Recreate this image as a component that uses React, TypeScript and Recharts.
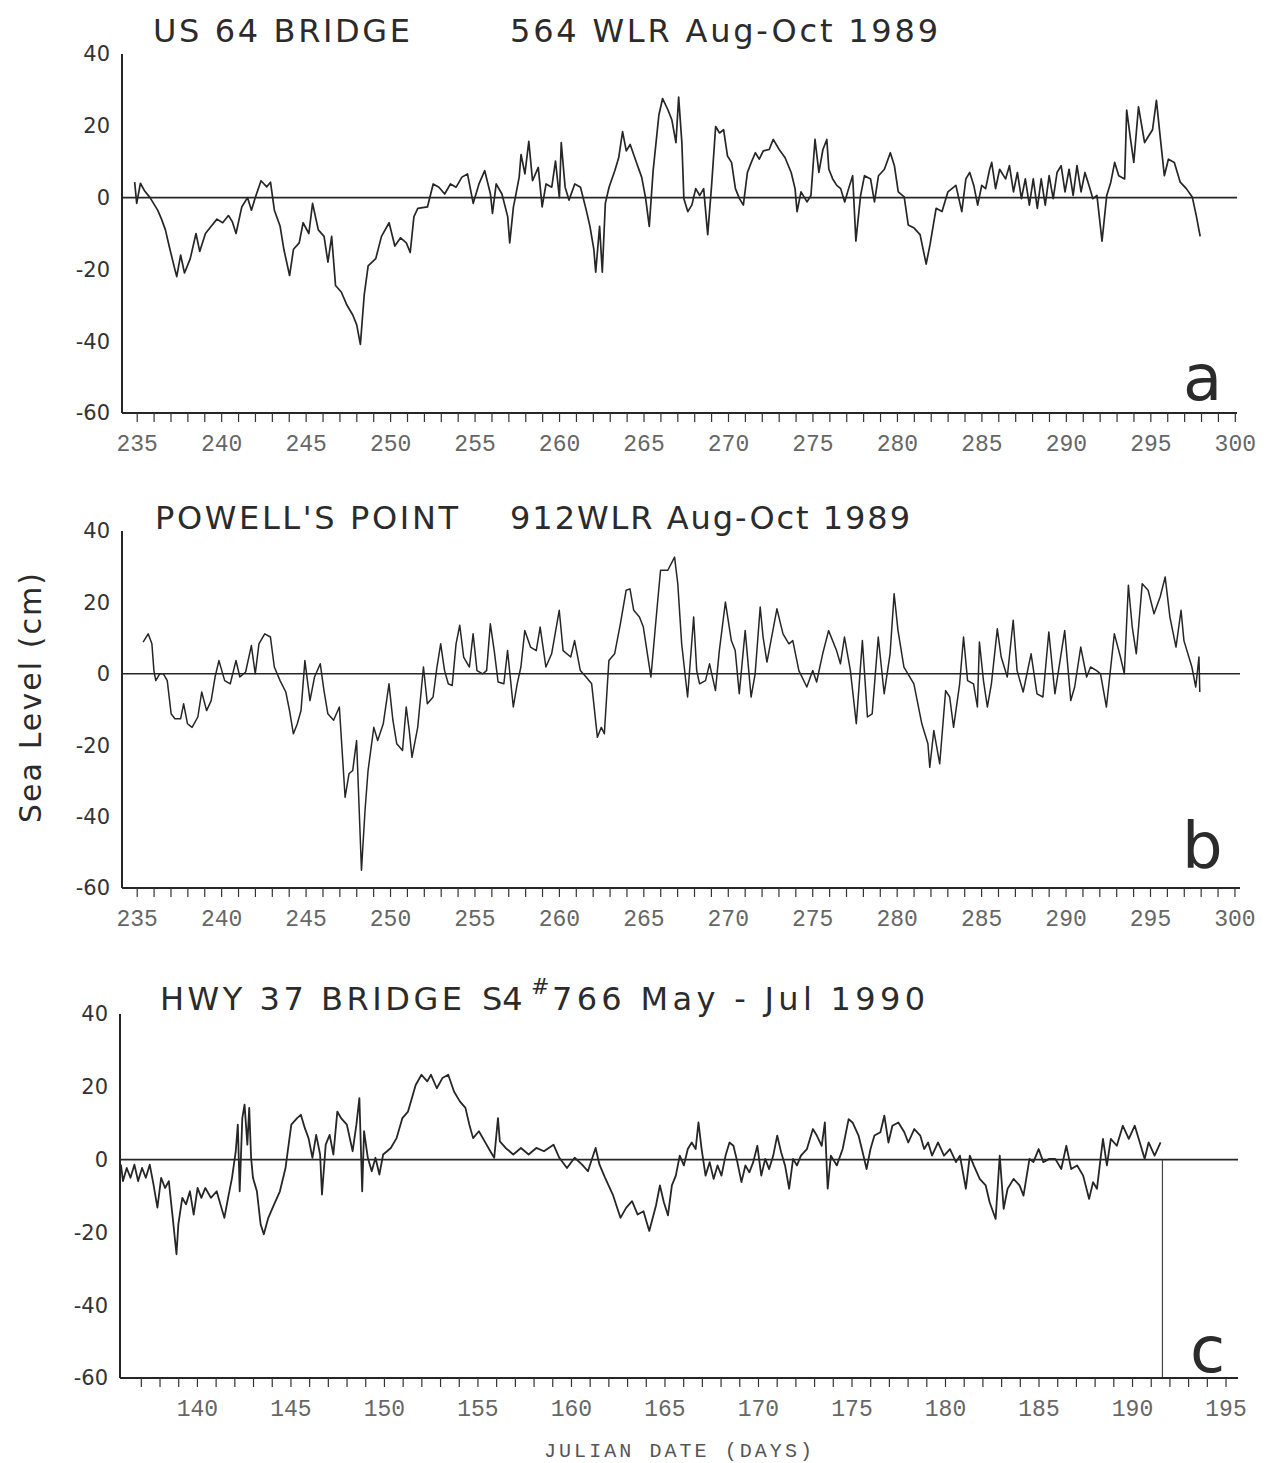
import React from "react";
import { LineChart, Line, XAxis, YAxis, ReferenceLine } from "recharts";

// a: US 64 Bridge, Aug-Oct 1989 (julian day, sea level cm)
const aDays = [
  234.85, 234.97, 235.19, 235.42, 235.76, 236.21, 236.44, 236.67, 236.89, 237.23,
  237.34, 237.57, 237.8, 238.14, 238.48, 238.7, 239.04, 239.38, 239.72, 240.06,
  240.4, 240.63, 240.85, 241.19, 241.53, 241.76, 241.99, 242.33, 242.67, 242.89,
  243.12, 243.46, 243.68, 244.02, 244.25, 244.59, 244.82, 245.16, 245.38, 245.72,
  246.06, 246.29, 246.51, 246.74, 247.08, 247.42, 247.76, 247.99, 248.21, 248.44,
  248.67, 249.12, 249.46, 249.91, 250.25, 250.59, 250.93, 251.16, 251.38, 251.61,
  252.18, 252.52, 252.86, 253.2, 253.54, 253.88, 254.22, 254.55, 254.89, 255.23,
  255.57, 255.91, 256.03, 256.25, 256.59, 256.93, 257.05, 257.27, 257.38, 257.61,
  257.72, 257.95, 258.18, 258.4, 258.74, 258.97, 259.2, 259.54, 259.76, 259.99,
  260.1, 260.33, 260.56, 260.9, 261.24, 261.58, 261.8, 262.03, 262.14, 262.37,
  262.53, 262.71, 262.93, 263.27, 263.5, 263.73, 263.95, 264.18, 264.52, 264.86,
  265.09, 265.31, 265.54, 265.88, 266.1, 266.42, 266.65, 266.89, 267.05, 267.24,
  267.36, 267.59, 267.83, 268.06, 268.3, 268.53, 268.77, 269.0, 269.24, 269.47,
  269.71, 269.94, 270.18, 270.41, 270.65, 270.88, 271.12, 271.35, 271.59, 271.82,
  272.06, 272.41, 272.65, 273.0, 273.35, 273.71, 273.94, 274.06, 274.29, 274.65,
  274.88, 275.12, 275.35, 275.59, 275.82, 275.94, 276.17, 276.41, 276.64, 276.88,
  277.11, 277.35, 277.54, 277.82, 278.05, 278.41, 278.64, 278.88, 279.23, 279.58,
  279.82, 280.05, 280.4, 280.64, 280.99, 281.34, 281.7, 281.93, 282.29, 282.64,
  282.99, 283.46, 283.81, 284.05, 284.28, 284.52, 284.75, 284.99, 285.22, 285.46,
  285.58, 285.81, 286.05, 286.4, 286.63, 286.87, 287.1, 287.34, 287.57, 287.81,
  288.04, 288.28, 288.51, 288.75, 288.98, 289.22, 289.45, 289.69, 289.92, 290.16,
  290.4, 290.63, 290.87, 291.1, 291.34, 291.57, 291.81, 292.11, 292.39, 292.63,
  292.86, 293.1, 293.45, 293.57, 293.8, 293.99, 294.27, 294.63, 294.86, 295.1,
  295.33, 295.57, 295.8, 296.04, 296.39, 296.74, 297.1, 297.45, 297.68, 297.92,
];
const aLevels = [
  4.3, -1.6, 4, 2, 0, -3.5, -6, -9, -13.5, -20,
  -22, -16, -21, -17, -10, -15, -10, -8, -6, -7,
  -5, -6.7, -10, -2.6, 0, -3.5, 0, 4.7, 3, 4.3,
  -3.5, -8, -14.4, -21.7, -14.4, -12.6, -7, -10, -1.6, -9,
  -10.8, -18, -10.8, -24.5, -26.3, -30, -32.7, -35.4, -40.9, -27,
  -19, -17, -10.8, -7, -13.5, -11.2, -12.6, -15.3, -5.3, -3,
  -2.6, 3.8, 2.9, 1, 3.8, 2.9, 5.7, 6.6, -1.6, 3.8,
  7.5, 1, -4.4, 3.8, 1, -5.3, -12.6, -2.6, 0, 5.7,
  12, 6.6, 15.7, 4.7, 8.4, -2.6, 3.8, 2.9, 10.2, 0,
  15.3, 2.9, -0.7, 3.8, 2.9, -3.5, -8, -14.4, -20.8, -8,
  -20.8, -1.6, 2.9, 7.5, 11.1, 18.4, 13, 14.8, 10.2, 5.7,
  0, -8, 7.5, 23, 27.6, 24.4, 21.6, 15.3, 28, 15.3,
  -0.3, -3.9, -2.1, 2.5, 0.6, 2.5, -10.3, 3.4, 19.8, 18,
  18.9, 11.6, 9.8, 2.5, -0.3, -2.1, 7, 9.8, 12.5, 10.7,
  13, 13.4, 16.2, 13.4, 11.1, 7, 2.5, -3.9, 1.6, -1.2,
  0.6, 16.2, 7, 13.4, 16.2, 7.9, 5.2, 3.4, 2.5, -1.2,
  2.5, 6.1, -12.1, 0.6, 6.1, 5.2, -1.2, 6.1, 7.9, 12.5,
  8.9, 1.6, 0.2, -7.6, -8.5, -10.3, -18.5, -13.1, -3, -3.9,
  1.6, 3.4, -3.9, 5.2, 7, 3.4, -2.1, 3.4, 2.5, 7.9,
  9.8, 2.5, 7.9, 5.2, 8.9, 1.6, 7, -0.3, 5.2, -2.1,
  5.2, -3, 5.2, -2.1, 6.1, -0.3, 7, 8.9, 1.6, 7.9,
  0.6, 8.9, 1.6, 7, 3.4, -0.3, 0.6, -12.1, 0.6, 4.3,
  9.8, 6.1, 5.2, 24.4, 16.2, 9.8, 25.3, 15.3, 17.1, 18.9,
  27.1, 16.2, 6.1, 10.7, 9.8, 4.3, 2.5, 0.2, -4.8, -10.8,
];

// b: Powell's Point, Aug-Oct 1989
const bDays = [
  235.35, 235.65, 235.87, 235.99, 236.1, 236.33, 236.55, 236.78, 237.01, 237.23,
  237.57, 237.75, 237.98, 238.25, 238.59, 238.82, 239.11, 239.38, 239.61, 239.84,
  240.18, 240.51, 240.85, 241.08, 241.42, 241.76, 241.99, 242.21, 242.55, 242.89,
  243.12, 243.46, 243.8, 244.02, 244.25, 244.48, 244.7, 244.93, 245.23, 245.5,
  245.84, 246.06, 246.29, 246.63, 246.97, 247.31, 247.54, 247.76, 247.99, 248.28,
  248.49, 248.67, 249.01, 249.24, 249.57, 249.91, 250.14, 250.37, 250.71, 250.93,
  251.11, 251.27, 251.61, 251.95, 252.18, 252.52, 252.75, 252.97, 253.2, 253.42,
  253.65, 253.88, 254.1, 254.33, 254.67, 254.89, 255.12, 255.46, 255.69, 255.91,
  256.14, 256.37, 256.71, 256.93, 257.27, 257.5, 257.72, 257.95, 258.29, 258.63,
  258.86, 259.2, 259.54, 259.99, 260.22, 260.67, 260.9, 261.24, 261.58, 261.91,
  262.25, 262.48, 262.66, 262.93, 263.27, 263.61, 263.95, 264.18, 264.4, 264.74,
  264.97, 265.42, 265.77, 265.99, 266.42, 266.82, 267.01, 267.24, 267.59, 267.83,
  267.95, 268.13, 268.3, 268.65, 268.89, 269.24, 269.47, 269.83, 270.18, 270.41,
  270.65, 271.0, 271.35, 271.59, 271.89, 272.06, 272.29, 272.88, 273.24, 273.59,
  273.82, 274.18, 274.65, 275.0, 275.23, 275.59, 275.94, 276.41, 276.64, 276.88,
  277.23, 277.58, 277.94, 278.24, 278.52, 278.88, 279.23, 279.58, 279.82, 280.05,
  280.4, 280.99, 281.46, 281.82, 281.93, 282.17, 282.52, 282.87, 283.11, 283.34,
  283.7, 283.93, 284.17, 284.52, 284.75, 284.87, 285.11, 285.34, 285.58, 285.93,
  286.16, 286.52, 286.87, 287.1, 287.46, 287.93, 288.28, 288.63, 288.98, 289.34,
  289.92, 290.28, 290.51, 290.87, 291.22, 291.45, 291.81, 292.04, 292.39, 292.86,
  293.22, 293.45, 293.69, 293.92, 294.16, 294.51, 294.86, 295.21, 295.57, 295.87,
  296.15, 296.51, 296.81, 296.98, 297.45, 297.68, 297.87, 297.92,
];
const bLevels = [
  8.9, 11.2, 8.4, 0.9, -1.9, 0, 0, -1.9, -11.2, -12.6,
  -12.6, -8.4, -14, -15, -12.1, -5.1, -10.3, -7.5, -0.9, 3.7,
  -1.9, -2.8, 3.7, -0.9, 0.5, 7.9, 0, 8.4, 11.2, 10.3,
  1.9, -1.9, -5.1, -10.3, -16.8, -14, -10.3, 3.7, -7.5, -0.9,
  2.8, -4.7, -11.2, -13, -9.3, -34.6, -28, -27.1, -18.7, -55,
  -38.3, -27.1, -15, -18.7, -14, -2.8, -13, -19.6, -21.5, -9.3,
  -15.9, -23.4, -15, 1.9, -8.4, -6.5, 1.9, 8.4, 0.9, -2.8,
  -3.3, 8.4, 13.6, 4.7, 1.9, 11.2, 0.9, 0, 0.9, 14,
  6.5, -2.3, -2.8, 6.5, -9.3, -2.8, 1.9, 12.1, 7.5, 6.5,
  13.1, 1.9, 5.6, 17.8, 6.5, 4.7, 9.3, 0.9, -0.9, -2.8,
  -17.8, -15, -16.8, 3.7, 5.6, 14, 23.4, 23.8, 17.8, 15.9,
  13.1, -0.9, 17.8, 29, 29, 32.7, 25.2, 8.4, -6.5, 8.4,
  15.9, 0.9, -2.8, -1.9, 2.8, -4.7, 6.5, 20.1, 9.3, 6.5,
  -5.6, 12.1, -6.5, 0, 18.7, 10.3, 3.3, 18.2, 11.2, 8.4,
  9.3, 0.9, -3.7, 0.9, -2.3, 5.6, 12.1, 6.5, 2.8, 10.3,
  0.9, -14, 9.3, -12.1, -11.2, 10.3, -5.6, 5.6, 22.4, 12.1,
  1.9, -2.8, -14, -19.6, -26.2, -15.9, -25.2, -4.7, -6.5, -15,
  -2.8, 10.3, -1.9, -2.8, -9.3, 8.9, -1.9, -9.3, -2.8, 12.6,
  4.7, -0.9, 15, 0.9, -5.1, 5.6, -5.6, -6.5, 11.7, -5.6,
  12.1, -7.5, -3.7, 7.5, -0.9, 1.9, 0.9, 0, -9.3, 11.2,
  4.7, 0, 24.8, 13.1, 5.6, 25.2, 23.4, 16.8, 21.5, 27.1,
  15.9, 7.5, 17.8, 9.3, 1.9, -3.7, 4.7, -5.1,
];

// c: Hwy 37 Bridge, May-Jul 1990
const cDays = [
  135.91, 136.02, 136.22, 136.42, 136.63, 136.83, 137.04, 137.24, 137.45, 137.65,
  137.86, 138.06, 138.27, 138.47, 138.68, 138.88, 138.98, 139.19, 139.39, 139.6,
  139.8, 140.01, 140.21, 140.42, 140.72, 141.03, 141.23, 141.44, 141.64, 141.85,
  142.05, 142.16, 142.26, 142.4, 142.52, 142.67, 142.77, 142.87, 142.97, 143.18,
  143.38, 143.55, 143.79, 144.1, 144.41, 144.71, 145.02, 145.33, 145.53, 145.74,
  145.94, 146.15, 146.35, 146.56, 146.66, 146.86, 147.07, 147.27, 147.48, 147.68,
  147.99, 148.3, 148.5, 148.66, 148.81, 148.91, 149.11, 149.32, 149.52, 149.73,
  149.93, 150.14, 150.34, 150.65, 150.96, 151.26, 151.47, 151.67, 151.98, 152.29,
  152.49, 152.8, 153.1, 153.41, 153.72, 154.03, 154.33, 154.54, 154.74, 155.05,
  155.36, 155.66, 155.87, 156.07, 156.17, 156.48, 156.89, 157.3, 157.71, 158.12,
  158.53, 159.04, 159.35, 159.76, 160.17, 160.57, 160.88, 161.29, 161.5, 161.8,
  162.21, 162.62, 162.93, 163.24, 163.54, 163.85, 164.16, 164.52, 164.73, 164.94,
  165.16, 165.37, 165.58, 165.79, 166.01, 166.22, 166.43, 166.64, 166.79, 166.96,
  167.17, 167.39, 167.6, 167.81, 168.02, 168.24, 168.45, 168.66, 168.87, 169.09,
  169.3, 169.51, 169.72, 169.94, 170.15, 170.36, 170.57, 170.79, 171.0, 171.21,
  171.42, 171.64, 171.85, 172.06, 172.27, 172.59, 172.91, 173.12, 173.38, 173.55,
  173.7, 173.87, 174.19, 174.5, 174.82, 175.03, 175.35, 175.57, 175.78, 175.99,
  176.2, 176.52, 176.73, 176.95, 177.16, 177.48, 177.8, 178.01, 178.33, 178.65,
  178.86, 179.07, 179.28, 179.6, 179.92, 180.24, 180.56, 180.77, 181.09, 181.3,
  181.51, 181.83, 182.15, 182.36, 182.68, 182.9, 183.11, 183.32, 183.64, 183.96,
  184.17, 184.49, 184.7, 184.98, 185.23, 185.55, 185.87, 186.19, 186.46, 186.72,
  187.04, 187.36, 187.68, 187.89, 188.1, 188.31, 188.42, 188.63, 188.84, 189.16,
  189.48, 189.8, 190.12, 190.33, 190.65, 190.86, 191.18, 191.5,
];
const cLevels = [
  -1.4, -5.9, -2.3, -5, -1.4, -5.9, -2.3, -5, -1.4, -6.8,
  -13.2, -5, -7.8, -5.9, -16, -26, -17.8, -10.5, -12.3, -8.7,
  -15.1, -7.8, -10.5, -7.8, -10.5, -8.7, -12.3, -16, -10.5, -5,
  2.3, 9.6, -8.7, 11.4, 15.1, 4.1, 14.2, 0.5, -5, -8.7,
  -17.8, -20.5, -16, -12.3, -8.7, -2.3, 9.6, 11.4, 12.3, 8.7,
  5.9, 0.5, 6.8, 1.4, -9.6, 4.1, 6.8, 1.4, 13.2, 11.4,
  9.6, 2.3, 9.6, 16.9, -8.7, 7.8, 0.5, -3.2, 0.5, -4.1,
  1.4, 2.3, 3.2, 5.9, 11.4, 13.2, 16.9, 20.5, 23.3, 21.5,
  23.3, 19.6, 22.4, 23.3, 18.7, 16, 14.2, 9.6, 5.9, 7.8,
  5, 2.3, 0.5, 11.4, 5, 3.2, 1.4, 3.2, 1.4, 3.2,
  2.3, 4.1, 0.5, -2.3, 0.5, -1.4, -3.2, 3.2, -1.4, -5,
  -9.6, -16, -13.2, -11.4, -15.1, -14.2, -19.6, -12.6, -7.1, -11.7,
  -15.3, -7.1, -4.4, 1.1, -1.6, 2.9, 4.7, 2.9, 10.2, 2.9,
  -4.4, -0.7, -5.3, -1.6, -4.4, 1.1, 4.7, 3.8, -0.7, -6.2,
  -1.6, -3.5, -0.7, 3.8, -4.4, 0.2, -2.6, 1.1, 6.6, 2,
  -1.6, -8, 0.2, -1.6, 1.1, 2.9, 8.4, 6.6, 3.8, 10.2,
  -8, 1.1, -1.6, 2.9, 11.1, 10.2, 6.6, 2, -2.6, 2.9,
  6.6, 7.5, 12.1, 4.7, 9.3, 10.2, 7.5, 4.7, 8.4, 6.6,
  2.9, 4.7, 1.1, 4.7, 1.1, 2.9, -0.7, 1.1, -8, 1.1,
  -1.6, -5.3, -7.1, -11.7, -16.3, 1.1, -13.5, -8, -5.3, -7.1,
  -9.9, 0.2, -0.7, 2.9, -0.7, 0.2, 0.2, -2.6, 3.8, -2.6,
  -1.6, -4.4, -10.8, -6.2, -8, 1.1, 5.7, -1.6, 5.7, 3.8,
  9.3, 5.7, 9.3, 5.7, 0.2, 4.7, 1.1, 4.7,
];

const levelTicks = [-60, -40, -20, 0, 20, 40];
const fallTicks = Array.from({ length: 66 }, (_, i) => 235 + i);
const springTicks = Array.from({ length: 59 }, (_, i) => 137 + i);
const cRecordEnd = 191.6;

const toRows = (days: number[], levels: number[]) =>
  days.map((day, i) => ({ day, level: levels[i] }));

const INK = "#262626";
const SANS = "'DejaVu Sans', sans-serif";
const MONO = "'Liberation Mono', monospace";

const DayTick = (props: any) => {
  const { x, y, payload } = props;
  const v = payload.value;
  return (
    <g>
      <line x1={x} y1={y} x2={x} y2={y + 9} stroke="#333" strokeWidth={1.2} />
      {v % 5 === 0 && (
        <text x={x} y={y + 38} textAnchor="middle" fontFamily={MONO} fontSize={23} fill="#666">
          {v}
        </text>
      )}
    </g>
  );
};

const Panel = ({ rows, domain, ticks, top, height, margin, endLine, lineWidth }: any) => (
  <div style={{ position: "absolute", left: 0, top }}>
    <LineChart width={1273} height={height} data={rows} margin={margin}>
      <XAxis
        type="number"
        dataKey="day"
        domain={domain}
        allowDataOverflow
        ticks={ticks}
        interval={0}
        tick={<DayTick />}
        tickLine={false}
        tickSize={0}
        tickMargin={0}
        height={45}
        axisLine={{ stroke: INK, strokeWidth: 2 }}
      />
      <YAxis
        type="number"
        domain={[-60, 40]}
        allowDataOverflow
        ticks={levelTicks}
        interval={0}
        width={60}
        tickLine={false}
        tickSize={0}
        tickMargin={12}
        axisLine={{ stroke: INK, strokeWidth: 2 }}
        tick={{ fontSize: 21, fill: "#333", fontFamily: SANS }}
      />
      <ReferenceLine y={0} stroke={INK} strokeWidth={1.6} />
      {endLine && (
        <ReferenceLine
          segment={[{ x: endLine, y: 0 }, { x: endLine, y: -60 }]}
          stroke="#444"
          strokeWidth={1.2}
        />
      )}
      <Line
        type="linear"
        dataKey="level"
        stroke={INK}
        strokeWidth={lineWidth}
        strokeLinejoin="round"
        dot={false}
        isAnimationActive={false}
      />
    </LineChart>
  </div>
);

const titleStyle = { fontFamily: SANS, fontSize: 32, fill: "#2b2b2b" };
const letterStyle = { fontFamily: SANS, fontSize: 64, fill: "#2b2b2b" };

export default function App() {
  return (
    <div style={{ position: "absolute", left: 0, top: 0, width: 1273, height: 1463, background: "#fff" }}>
      <Panel
        rows={toRows(aDays, aLevels)}
        domain={[234.1, 300.1]}
        ticks={fallTicks}
        top={0}
        height={470}
        margin={{ top: 54, right: 36, bottom: 12, left: 62 }}
        lineWidth={1.7}
      />
      <Panel
        rows={toRows(bDays, bLevels)}
        domain={[234.1, 300.3]}
        ticks={fallTicks}
        top={470}
        height={470}
        margin={{ top: 61, right: 33, bottom: 7, left: 62 }}
        lineWidth={1.5}
      />
      <Panel
        rows={toRows(cDays, cLevels)}
        domain={[135.86, 195.64]}
        ticks={springTicks}
        top={940}
        height={523}
        margin={{ top: 74, right: 35, bottom: 40, left: 60 }}
        endLine={cRecordEnd}
        lineWidth={1.8}
      />
      <svg
        width={1273}
        height={1463}
        style={{ position: "absolute", left: 0, top: 0, pointerEvents: "none" }}
      >
        <text x={153} y={42} textLength={257} lengthAdjust="spacing" style={titleStyle}>US 64 BRIDGE</text>
        <text x={510} y={42} textLength={428} lengthAdjust="spacing" style={titleStyle}>564 WLR Aug-Oct 1989</text>

        <text x={155} y={529} textLength={303} lengthAdjust="spacing" style={titleStyle}>POWELL'S POINT</text>
        <text x={510} y={529} textLength={400} lengthAdjust="spacing" style={titleStyle}>912WLR Aug-Oct 1989</text>

        <text x={160} y={1010} textLength={302} lengthAdjust="spacing" style={titleStyle}>HWY 37 BRIDGE</text>
        <text x={482} y={1010} style={titleStyle}>S4</text>
        <text x={531} y={994} style={{ ...titleStyle, fontSize: 22 }}>#</text>
        <text x={552} y={1010} textLength={373} lengthAdjust="spacing" style={titleStyle}>766 May - Jul 1990</text>

        <text x={1183} y={400} style={letterStyle}>a</text>
        <text x={1182} y={868} style={letterStyle}>b</text>
        <text x={1190} y={1372} style={letterStyle}>c</text>

        <text
          x={0}
          y={0}
          transform="translate(41 698) rotate(-90)"
          textAnchor="middle"
          textLength={250}
          lengthAdjust="spacing"
          style={{ fontFamily: SANS, fontSize: 30, fill: "#2b2b2b" }}
        >
          Sea Level (cm)
        </text>

        <text x={544} y={1457} textLength={268} lengthAdjust="spacing" style={{ fontFamily: MONO, fontSize: 20, fill: "#555" }}>
          JULIAN DATE (DAYS)
        </text>
      </svg>
    </div>
  );
}
